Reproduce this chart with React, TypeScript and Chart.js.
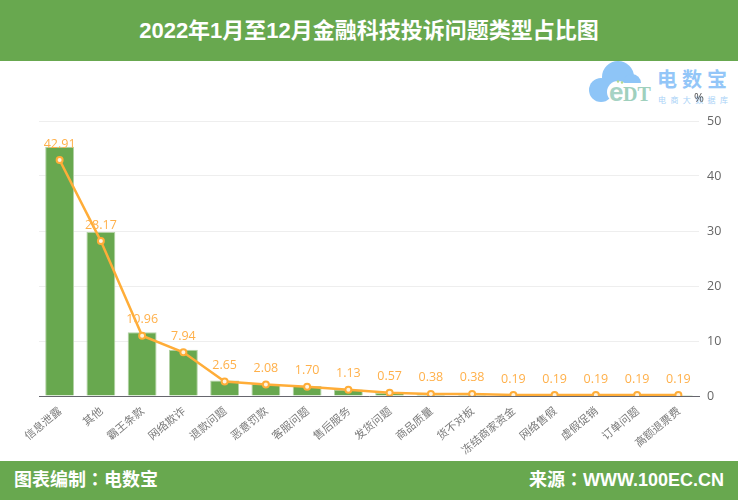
import React, { useEffect, useRef } from 'react';
import { Chart, registerables } from 'chart.js';

Chart.register(...registerables);

const categories = ['信息泄露', '其他', '霸王条款', '网络欺诈', '退款问题', '恶意罚款', '客服问题', '售后服务', '发货问题', '商品质量', '货不对板', '冻结商家资金', '网络售假', '虚假促销', '订单问题', '高额退票费'];
const shareValues = [42.91, 28.17, 10.96, 7.94, 2.65, 2.08, 1.7, 1.13, 0.57, 0.38, 0.38, 0.19, 0.19, 0.19, 0.19, 0.19];
// the bars in the picture stand a little taller than the line, read separately
const barValues = [45.3, 29.8, 11.6, 8.4, 2.8, 2.2, 1.8, 1.2, 0.6, 0.4, 0.4, 0.2, 0.2, 0.2, 0.2, 0.2];
const yTicks = [0, 10, 20, 30, 40, 50];

const GREEN = '#68a84f';
const ORANGE = '#ffad38';
const FONT = '"Liberation Sans", "Noto Sans CJK TC", sans-serif';

const valueLabels = {
  id: 'valueLabels',
  afterDatasetsDraw(chart: any) {
    const { ctx } = chart;
    const points = chart.getDatasetMeta(0).data;
    ctx.save();
    ctx.fillStyle = '#ffb04a';
    ctx.font = '12.5px "Open Sans", sans-serif';
    ctx.textAlign = 'center';
    ctx.textBaseline = 'middle';
    points.forEach((p: any, i: number) => {
      ctx.fillText(shareValues[i].toFixed(2), p.x, p.y - 16);
    });
    ctx.fillStyle = '#555';
    ctx.font = '12px "Open Sans", sans-serif';
    ctx.fillText('%', chart.chartArea.right, chart.chartArea.top - 22);
    ctx.restore();
  },
};

const Logo: React.FC = () => (
  <svg width="150" height="50" style={{ position: 'absolute', left: 585, top: 58 }}>
    <defs>
      <linearGradient id="edt" x1="0" y1="0" x2="1" y2="0">
        <stop offset="0" stopColor="#86c6ea" />
        <stop offset="0.45" stopColor="#b9dc94" />
        <stop offset="1" stopColor="#7fc4e8" />
      </linearGradient>
    </defs>
    <circle cx="16" cy="32" r="12" fill="#8ec5f7" />
    <circle cx="33" cy="19" r="16" fill="#8ec5f7" />
    <circle cx="47" cy="25" r="9" fill="#8ec5f7" />
    <rect x="16" y="22" width="30" height="12" fill="#8ec5f7" />
    <circle cx="33" cy="34" r="11" fill="#ffffff" />
    <rect x="33" y="25" width="36" height="23" fill="#ffffff" />
    <circle cx="33" cy="23.5" r="1.2" fill="#b5d98f" />
    <circle cx="37" cy="24.5" r="1.2" fill="#b5d98f" />
    <text x="24" y="43" fontFamily="'Liberation Sans', sans-serif" fontSize="26" fontWeight="700" fill="#a6d3c4">e</text>
    <text x="38" y="43" fontFamily="'Liberation Serif', serif" fontSize="20" fontWeight="700" fill="#9fd0bd">DT</text>
    <text x="72" y="29" fontFamily={FONT} fontSize="20" fontWeight="700" letterSpacing="5" fill="#93c6f8">电数宝</text>
    <text x="73" y="45" fontFamily={FONT} fontSize="8" letterSpacing="4.4" fill="#a9d2f7">电商大数据库</text>
  </svg>
);

const App: React.FC = () => {
  const chartRef = useRef<HTMLCanvasElement | null>(null);

  useEffect(() => {
    if (!chartRef.current) return;
    const myChart = new Chart(chartRef.current, {
      type: 'bar',
      data: {
        labels: categories,
        datasets: [
          {
            type: 'line',
            label: '占比',
            data: shareValues,
            borderColor: ORANGE,
            borderWidth: 2.5,
            backgroundColor: '#fff3df',
            pointBorderColor: ORANGE,
            pointBorderWidth: 2,
            pointRadius: 3,
            tension: 0,
            order: 0,
          },
          {
            type: 'bar',
            label: '柱',
            data: barValues,
            backgroundColor: GREEN,
            borderColor: '#b4d2a6',
            borderWidth: { left: 1, right: 1, top: 1, bottom: 0 },
            categoryPercentage: 0.7,
            barPercentage: 1,
            order: 1,
          },
        ],
      } as any,
      plugins: [valueLabels],
      options: {
        animation: false,
        responsive: false,
        maintainAspectRatio: false,
        layout: { padding: { left: 39, top: 60, right: 0, bottom: 0 } },
        plugins: { legend: { display: false }, title: { display: false }, tooltip: { enabled: false } },
        scales: {
          x: {
            grid: { display: false },
            border: { color: '#66666e', width: 1 },
            ticks: {
              color: '#7a7a7a',
              font: { size: 11, family: '"Noto Sans CJK SC", sans-serif' },
              minRotation: 40,
              maxRotation: 40,
              autoSkip: false,
              padding: 0,
            },
            afterFit: (s: any) => {
              s.height = 65;
            },
          },
          y: {
            position: 'right',
            min: 0,
            max: 50,
            afterBuildTicks: (s: any) => {
              s.ticks = yTicks.map((value) => ({ value }));
            },
            grid: { color: '#eeeeee', drawTicks: false },
            border: { display: false },
            ticks: {
              color: '#666',
              font: { size: 12.5, family: '"Open Sans", sans-serif' },
              padding: 8,
            },
            afterFit: (s: any) => {
              s.width = 39;
            },
          },
        },
      },
    });

    return () => {
      myChart.destroy();
    };
  }, []);

  return (
    <div style={{ position: 'absolute', left: 0, top: 0, width: 738, height: 500, background: '#fff', overflow: 'hidden', fontFamily: FONT }}>
      <div style={{ position: 'absolute', left: 0, top: 0, width: 738, height: 61, background: GREEN, color: '#fff', fontSize: 22, fontWeight: 700, lineHeight: '61px', textAlign: 'center' }}>
        2022年1月至12月金融科技投诉问题类型占比图
      </div>
      <Logo />
      <canvas ref={chartRef} width={738} height={400} style={{ position: 'absolute', left: 0, top: 61, display: 'block' }} />
      <div style={{ position: 'absolute', left: 0, top: 461, width: 738, height: 39, background: GREEN, color: '#fff', fontSize: 18, fontWeight: 700, lineHeight: '39px' }}>
        <span style={{ position: 'absolute', left: 14 }}>图表编制：电数宝</span>
        <span style={{ position: 'absolute', right: 14 }}>来源：WWW.100EC.CN</span>
      </div>
    </div>
  );
};

export default App;
